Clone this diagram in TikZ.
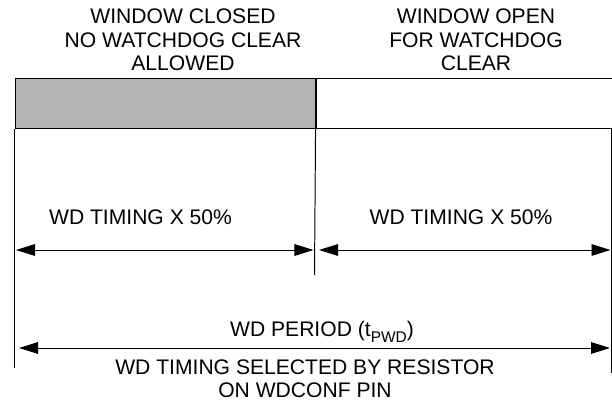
\documentclass[tikz,border=0pt]{standalone}
\usepackage{fontspec}
\setmainfont{Liberation Sans}
\usetikzlibrary{arrows.meta, positioning}
\definecolor{closedgray}{HTML}{B3B3B3}

\begin{document}
\begin{tikzpicture}[
    x=0.025cm, y=-0.025cm,
    line width=0.7pt,
    window/.style={rectangle, draw=black, minimum height=1.25cm, inner sep=0pt, anchor=north west},
    txt/.style={font=\fontsize{15}{16.6}\selectfont, align=center, inner sep=0pt},
    dim/.style={{Triangle[length=0.475cm, width=0.29cm]}-{Triangle[length=0.475cm, width=0.29cm]}}
]
    \useasboundingbox (0,0) rectangle (612,402);

    % Window bar
    \node[window, fill=closedgray, minimum width=7.5cm] (closed) at (14.5,78) {};
    \node[window, minimum width=7.5cm] (open) at (closed.north east) {};
    \draw[line width=1.4pt] (closed.north east) -- (closed.south east);
    \node[txt] (closedtxt) at (183,40) {WINDOW CLOSED\\NO WATCHDOG CLEAR\\ALLOWED};
    \node[txt] (opentxt) at (476,40) {WINDOW OPEN\\FOR WATCHDOG\\CLEAR};

    % Extension lines
    \coordinate (lbot) at (14.5,367.5);
    \coordinate (mbot) at (314.5,275);
    \coordinate (rtop) at (611,128);
    \coordinate (rbot) at (611,373);
    \draw (closed.south west) -- (lbot);
    \draw (closed.south east) -- (mbot);
    \draw (rtop) -- (rbot);

    % Half periods
    \coordinate (h1a) at (16,250);
    \coordinate (h1b) at (313.5,250);
    \coordinate (h2a) at (319,250);
    \coordinate (h2b) at (610.5,250);
    \draw[dim] (h1a) -- (h1b);
    \draw[dim] (h2a) -- (h2b);
    \node[txt] (half1) at (140.5,217.5) {WD TIMING X 50\%};
    \node[txt] (half2) at (461,217.5) {WD TIMING X 50\%};

    % Full period
    \coordinate (pa) at (19,348);
    \coordinate (pb) at (610,348);
    \draw[dim] (pa) -- (pb);
    \node[txt, anchor=base] (period) at (322,336.5) {WD PERIOD (t\raisebox{-4pt}{\fontsize{11}{11}\selectfont PWD})};
    \node[txt] (sel) at (305,379) {WD TIMING SELECTED BY RESISTOR\\ON WDCONF PIN};
\end{tikzpicture}
\end{document}
